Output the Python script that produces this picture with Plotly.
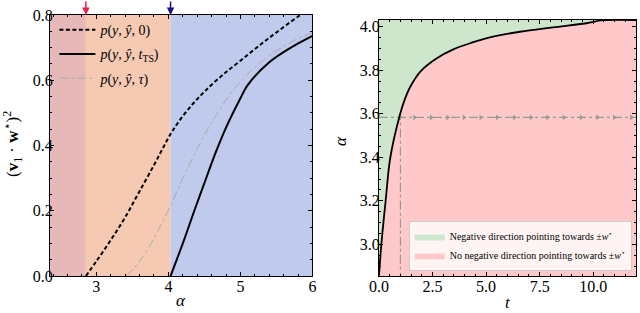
import plotly.graph_objects as go

# ---------------- data ----------------
# left panel: overlap vs alpha
alpha_bounds = [2.357, 2.855, 4.03, 6.0]          # region edges (red | orange | blue)
region_colors = ["#e6b9b8", "#f6cab2", "#bfcaec"]

alpha_p0 = [2.855, 3.0, 3.2, 3.4, 3.6, 3.8, 3.92, 4.03, 4.15, 4.33, 4.5, 4.72, 5.0, 5.37, 5.83, 6.0]
p0 = [0.0, 0.045, 0.11, 0.18, 0.26, 0.34, 0.39, 0.435, 0.475, 0.525, 0.565, 0.61, 0.66, 0.725, 0.80, 0.825]

alpha_pts = [4.03, 4.2, 4.36, 4.5, 4.65, 4.8, 5.0, 5.1, 5.4, 5.7, 6.0]
p_ts = [0.0, 0.1, 0.2, 0.285, 0.375, 0.455, 0.545, 0.585, 0.655, 0.70, 0.736]

alpha_tau = [3.42, 3.6, 3.8, 3.9, 4.03, 4.2, 4.4, 4.6, 4.9, 5.2, 5.5, 5.8, 6.0]
p_tau = [0.0, 0.045, 0.115, 0.158, 0.215, 0.30, 0.39, 0.47, 0.57, 0.64, 0.69, 0.728, 0.746]

arrow_alphas = [2.855, 4.03]
arrow_colors = ["#e8204a", "#141488"]

# right panel: alpha threshold vs t
t_curve = [0.0, 0.11, 0.31, 0.53, 0.99, 1.2, 1.46, 1.92, 2.7, 3.47, 4.25, 5.0, 6.58, 8.13, 9.68, 10.46, 12.0]
alpha_curve = [2.855, 3.0, 3.2, 3.4, 3.6, 3.665, 3.724, 3.793, 3.855, 3.896, 3.924, 3.947, 3.977, 3.997,
               4.016, 4.03, 4.031]
alpha_top = 4.2

t_star = 1.0
alpha_star = 3.583
marker_t = [0.98, 1.66, 2.44, 3.20, 3.97, 4.75, 5.52, 6.32, 7.10, 7.87, 8.64, 9.44, 10.21, 10.99, 11.78]

# ---------------- figure ----------------
SERIF = "Liberation Serif"
fig = go.Figure()

# left curves
fig.add_trace(go.Scatter(x=alpha_p0, y=p0, mode="lines", xaxis="x", yaxis="y",
                         line=dict(color="black", width=2, dash="4px,2.5px", shape="spline"),
                         name="<i>p</i>(<i>y</i>, <i>ŷ</i>, 0)", legend="legend", legendgroup="a"))
fig.add_trace(go.Scatter(x=alpha_pts, y=p_ts, mode="lines", xaxis="x", yaxis="y",
                         line=dict(color="black", width=2, shape="spline"),
                         name="<i>p</i>(<i>y</i>, <i>ŷ</i>, <i>t</i><sub>TS</sub>)", legend="legend",
                         legendgroup="b"))
fig.add_trace(go.Scatter(x=alpha_tau, y=p_tau, mode="lines", xaxis="x", yaxis="y",
                         line=dict(color="#aaaaaa", width=1, dash="dashdot", shape="spline"),
                         name="<i>p</i>(<i>y</i>, <i>ŷ</i>, <i>τ</i>)", legend="legend", legendgroup="c"))

# right fills
fig.add_trace(go.Scatter(x=t_curve, y=alpha_curve, mode="lines", xaxis="x2", yaxis="y2",
                         fill="tozeroy", fillcolor="#ffc9c9", line=dict(width=0, shape="spline"),
                         name="No negative direction pointing towards ±<i>w</i><sup>⋆</sup>",
                         legend="legend2", legendrank=2))
fig.add_trace(go.Scatter(x=t_curve, y=[alpha_top] * len(t_curve), mode="lines", xaxis="x2", yaxis="y2",
                         fill="tonexty", fillcolor="#cde6cc", line=dict(width=0),
                         name="Negative direction pointing towards ±<i>w</i><sup>⋆</sup>",
                         legend="legend2", legendrank=1))
# dash-dot guide lines
fig.add_trace(go.Scatter(x=[0, 12], y=[alpha_star, alpha_star], mode="lines", xaxis="x2", yaxis="y2",
                         line=dict(color="#999999", width=1.2, dash="dashdot"), showlegend=False))
fig.add_trace(go.Scatter(x=[t_star, t_star], y=[2.0, alpha_star], mode="lines", xaxis="x2", yaxis="y2",
                         line=dict(color="#999999", width=1.2, dash="dashdot"), showlegend=False))
fig.add_trace(go.Scatter(x=marker_t, y=[alpha_star] * len(marker_t), mode="markers", xaxis="x2", yaxis="y2",
                         marker=dict(symbol="triangle-right", size=5, color="#999999"), showlegend=False))
fig.add_trace(go.Scatter(x=t_curve, y=alpha_curve, mode="lines", xaxis="x2", yaxis="y2",
                         line=dict(color="black", width=1.8, shape="spline"), showlegend=False))

# background regions (left)
shapes = []
for i, c in enumerate(region_colors):
    shapes.append(dict(type="rect", xref="x", yref="y domain", x0=alpha_bounds[i], x1=alpha_bounds[i + 1],
                       y0=0, y1=1, fillcolor=c, line=dict(width=0), layer="below"))

annotations = []
for a, c in zip(arrow_alphas, arrow_colors):
    annotations.append(dict(x=a, y=0.8, xref="x", yref="y", ax=0, ay=-15, showarrow=True,
                            arrowhead=2, arrowsize=1, arrowwidth=1.5, arrowcolor=c, text=""))

title_font = dict(family=SERIF, size=17, color="black")
annotations += [
    dict(text="<i>α</i>", x=181 / 640, y=1 - 300 / 313, xref="paper", yref="paper",
         showarrow=False, font=title_font, xanchor="center", yanchor="middle"),
    dict(text="<i>t</i>", x=508 / 640, y=1 - 302 / 313, xref="paper", yref="paper",
         showarrow=False, font=title_font, xanchor="center", yanchor="middle"),
    dict(text="(<b>v</b><sub>1</sub> · <b>w</b><sup>⋆</sup>)<sup>2</sup>", x=12 / 640, y=1 - 144 / 313,
         xref="paper", yref="paper", showarrow=False, font=title_font, textangle=-90,
         xanchor="center", yanchor="middle"),
    dict(text="<i>α</i>", x=340 / 640, y=1 - 141 / 313, xref="paper", yref="paper",
         showarrow=False, font=title_font, textangle=-90, xanchor="center", yanchor="middle"),
]

tickfont = dict(family=SERIF, size=16, color="black")
common = dict(showline=True, linecolor="black", linewidth=1, mirror="allticks", ticks="inside",
              ticklen=4, tickcolor="black", showgrid=False, zeroline=False, tickfont=tickfont,
              automargin=False)

fig.update_layout(
    width=640, height=313, margin=dict(l=0, r=0, t=0, b=0),
    paper_bgcolor="white", plot_bgcolor="rgba(0,0,0,0)",
    shapes=shapes, annotations=annotations,
    xaxis=dict(domain=[0.078125, 0.48828], range=[2.357, 6.0], tickvals=[3, 4, 5, 6],
               ticklabelstandoff=-4,
               minor=dict(dtick=0.2, ticks="inside", ticklen=2, tickcolor="black"), **common),
    yaxis=dict(domain=[0.1182, 0.95208], range=[0, 0.8], tickvals=[0, 0.2, 0.4, 0.6, 0.8],
               tickformat=".1f", anchor="x", ticklabelstandoff=-7,
               minor=dict(dtick=0.05, ticks="inside", ticklen=2, tickcolor="black"), **common),
    xaxis2=dict(domain=[0.5922, 0.99375], range=[0, 12], tickvals=[0, 2.5, 5, 7.5, 10],
                tickformat=".1f", anchor="y2", ticklabelstandoff=-4,
                minor=dict(dtick=0.5, ticks="inside", ticklen=2, tickcolor="black"), **common),
    yaxis2=dict(domain=[0.1182, 0.9361], range=[2.854, 4.031], tickvals=[3.0, 3.2, 3.4, 3.6, 3.8, 4.0],
                tickformat=".1f", anchor="x2", ticklabelstandoff=-5,
                minor=dict(dtick=0.05, ticks="inside", ticklen=2, tickcolor="black"), **common),
    legend=dict(x=0.085, y=0.955, xanchor="left", yanchor="top", bgcolor="rgba(0,0,0,0)",
                font=dict(family=SERIF, size=14, color="black"), itemwidth=36, tracegroupgap=3),
    legend2=dict(x=0.987, y=0.134, xanchor="right", yanchor="bottom", bgcolor="rgba(255,255,255,0.8)",
                 bordercolor="#cccccc", borderwidth=1, traceorder="normal",
                 font=dict(family=SERIF, size=10, color="black"), itemwidth=30),
)

fig.write_html("out.html", config={"displayModeBar": False},
               post_script="document.body.style.margin='0';document.body.style.overflow='hidden';")
